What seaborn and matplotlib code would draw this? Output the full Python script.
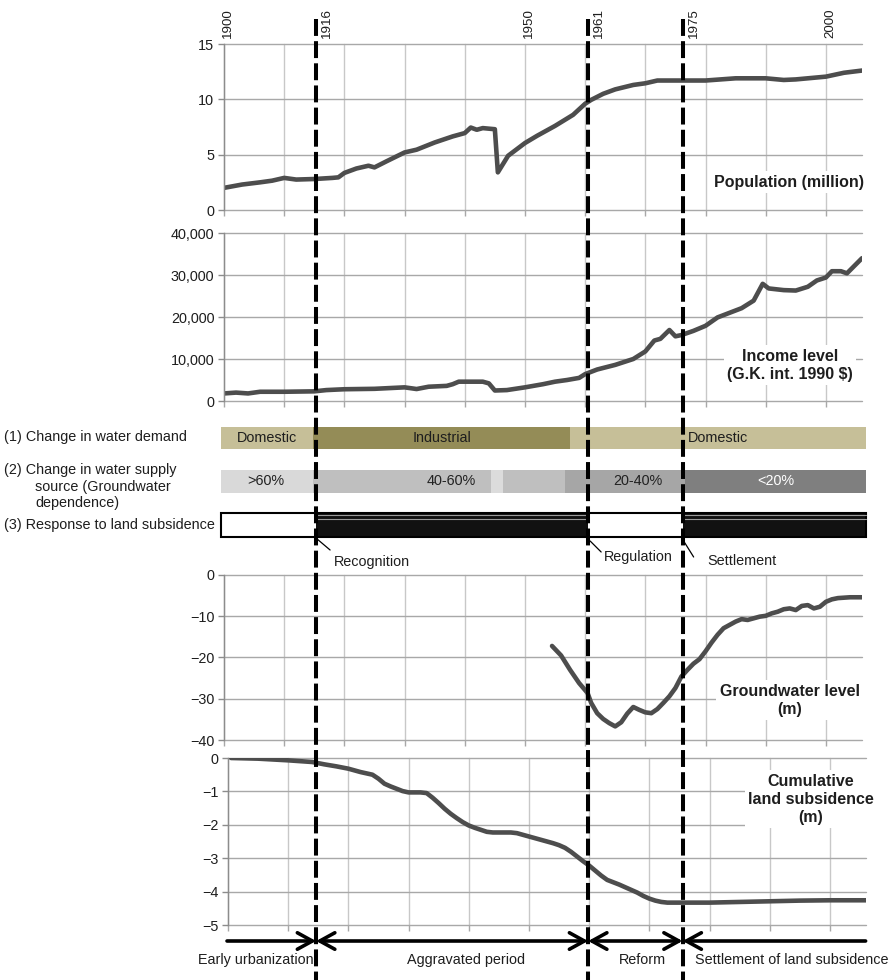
import matplotlib
matplotlib.use("Agg")
import matplotlib.pyplot as plt
import seaborn as sns
from matplotlib.lines import Line2D
from matplotlib.patches import Rectangle

# ---------------- data ----------------
pop_years = [1900, 1903, 1906, 1908, 1910, 1912, 1915, 1918, 1919, 1920, 1922, 1924, 1925,
             1927, 1930, 1932, 1935, 1938, 1940, 1941, 1942, 1943, 1944, 1945, 1945.5,
             1947.2, 1950, 1952, 1955, 1958, 1960, 1961, 1963, 1965, 1968, 1970, 1972,
             1975, 1980, 1985, 1990, 1993, 1995, 2000, 2003, 2006]
pop_vals = [2.0, 2.3, 2.5, 2.65, 2.9, 2.75, 2.8, 2.9, 2.95, 3.35, 3.75, 4.0, 3.85,
            4.4, 5.2, 5.45, 6.1, 6.65, 6.95, 7.45, 7.25, 7.4, 7.35, 7.3, 3.4,
            4.9, 6.05, 6.7, 7.6, 8.6, 9.6, 9.95, 10.5, 10.9, 11.3, 11.45, 11.7,
            11.7, 11.7, 11.9, 11.9, 11.75, 11.8, 12.05, 12.4, 12.6]

inc_years = [1900, 1902, 1904, 1906, 1910, 1915, 1917, 1920, 1925, 1930, 1932, 1934, 1937,
             1938, 1939, 1943, 1944, 1945, 1947, 1950, 1953, 1955, 1957, 1959, 1960, 1962,
             1965, 1968, 1970, 1971.5, 1972.5, 1974, 1975, 1976, 1978, 1980, 1982, 1984,
             1986, 1988, 1989.5, 1990.5, 1993, 1995, 1997, 1998.5, 2000, 2001, 2002.5,
             2003.5, 2006]
inc_vals = [1800, 2000, 1800, 2200, 2200, 2300, 2600, 2800, 2900, 3250, 2850, 3400, 3600,
            4000, 4600, 4600, 4200, 2500, 2600, 3250, 4000, 4600, 5000, 5500, 6400, 7500,
            8600, 10000, 11800, 14400, 14800, 16900, 15400, 15700, 16700, 17900, 19900, 21000,
            22100, 23900, 27900, 26800, 26400, 26300, 27200, 28700, 29400, 30900, 30900,
            30400, 34000]

gw_years = [1954.5, 1956, 1957.5, 1959, 1960.4, 1961, 1962, 1963, 1964, 1965, 1966, 1967,
            1968, 1969, 1970, 1971, 1972, 1973, 1974, 1975, 1976, 1977, 1978, 1979, 1980,
            1981, 1982, 1983, 1984, 1985, 1986, 1987, 1988, 1989, 1990, 1991, 1992, 1993,
            1994, 1995, 1996, 1997, 1998, 1999, 2000, 2001, 2002, 2004, 2006]
gw_vals = [-17.2, -19.5, -23.0, -26.2, -28.6, -31.0, -33.5, -34.9, -35.9, -36.7, -35.7, -33.6,
           -32.0, -32.7, -33.3, -33.5, -32.5, -31.0, -29.4, -27.4, -24.6, -23.0, -21.5, -20.4,
           -18.5, -16.4, -14.5, -12.9, -12.1, -11.3, -10.7, -10.9, -10.5, -10.1, -9.9, -9.3,
           -8.9, -8.3, -8.1, -8.5, -7.5, -7.3, -8.1, -7.7, -6.5, -5.9, -5.6, -5.4, -5.4]

sub_years = [1900.5, 1905, 1910, 1914, 1916, 1918, 1920, 1922, 1924, 1925, 1926, 1927, 1928,
             1929, 1930, 1932, 1933, 1934, 1935, 1936, 1937, 1938, 1939, 1940, 1941, 1942,
             1943, 1944, 1947, 1948, 1950, 1952, 1954, 1955, 1956, 1957, 1958, 1959, 1960,
             1961, 1962, 1963, 1964, 1965, 1966, 1967, 1968, 1969, 1970, 1971, 1972, 1973,
             1980, 1985, 1990, 1995, 2000, 2006]
sub_vals = [0.0, -0.02, -0.07, -0.12, -0.19, -0.25, -0.32, -0.42, -0.5, -0.62, -0.77, -0.85,
            -0.92, -0.99, -1.03, -1.03, -1.05, -1.19, -1.35, -1.52, -1.67, -1.8, -1.92, -2.02,
            -2.09, -2.15, -2.21, -2.23, -2.23, -2.25, -2.35, -2.45, -2.55, -2.61, -2.69, -2.81,
            -2.95, -3.09, -3.22, -3.37, -3.52, -3.65, -3.72, -3.79, -3.87, -3.95, -4.03, -4.13,
            -4.21, -4.27, -4.31, -4.33, -4.33, -4.31, -4.29, -4.27, -4.26, -4.26]

grid_years = [1900, 1910, 1920, 1930, 1940, 1950, 1960, 1970, 1980, 1990, 2000]
top_year_labels = [1900, 1950, 2000]
event_years = [1916, 1961, 1975]
event_line_x = [1915.3, 1960.5, 1976.2]
event_names = ["Recognition", "Regulation", "Settlement"]

pop_ticks = [0, 5, 10, 15]
inc_ticks = [0, 10000, 20000, 30000, 40000]
gw_ticks = [0, -10, -20, -30, -40]
sub_ticks = [0, -1, -2, -3, -4, -5]

demand_start = [1899.5, 1914.8, 1957.5]
demand_end = [1914.8, 1957.5, 2006.6]
demand_labels = ["Domestic", "Industrial", "Domestic"]
demand_colors = ["#C6BF98", "#948C57", "#C6BF98"]

supply_start = [1899.5, 1914.8, 1944.4, 1946.3, 1956.6, 1976.6]
supply_end = [1914.8, 1944.4, 1946.3, 1956.6, 1976.6, 2006.6]
supply_colors = ["#D9D9D9", "#BFBFBF", "#DCDCDC", "#BFBFBF", "#A6A6A6", "#7F7F7F"]
supply_labels = [">60%", "40-60%", "20-40%", "<20%"]
supply_label_x = [1907.0, 1937.7, 1968.8, 1991.7]
supply_label_colors = ["#222222", "#222222", "#222222", "white"]

resp_start = [1899.5, 1915.3, 1960.5, 1976.2]
resp_end = [1915.3, 1960.5, 1976.2, 2006.6]
resp_colors = ["white", "#111111", "white", "#111111"]

period_start = [1900.5, 1915.3, 1960.5, 1976.2]
period_end = [1915.3, 1960.5, 1976.2, 2006.6]
period_styles = ["->", "<->", "<->", "<-"]
period_names = ["Early urbanization", "Aggravated period", "Reform", "Settlement of land subsidence"]
period_label_x = [1905.3, 1940.2, 1969.6, 1994.3]

# ---------------- figure ----------------
sns.set_style("white")
plt.rcParams["font.family"] = ["Liberation Sans", "DejaVu Sans"]
plt.rcParams["axes.unicode_minus"] = True

W, H = 890, 980
fig = plt.figure(figsize=(W / 100, H / 100), dpi=100)


def box(l, t, r, b):
    return [l / W, 1 - b / H, (r - l) / W, (b - t) / H]


ax_pop = fig.add_axes(box(224, 44, 862, 210))
ax_inc = fig.add_axes(box(224, 233, 862, 401))
ax_bar = fig.add_axes(box(224, 416.3, 862, 546.4))
ax_gw = fig.add_axes(box(224, 575, 862, 740))
ax_sub = fig.add_axes(box(228, 758, 866, 925))

XLIM = (1900, 2006)
LINE_C = "#4D4D4D"
TXT = "#1E1E1E"
FS = 10.4


def style(ax, ticks, labels):
    ax.set_xlim(*XLIM)
    ax.set_ylim(min(ticks), max(ticks))
    ax.set_xticks(grid_years)
    ax.set_xticklabels([])
    ax.set_yticks(ticks)
    ax.set_yticklabels(labels)
    ax.grid(False)
    for x in grid_years:
        ax.axvline(x, color="#C8C8C8", lw=1, zorder=0, clip_on=False)
    for y in ticks:
        ax.axhline(y, color="#A8A8A8", lw=1, zorder=0, clip_on=False)
    for s in ["top", "right", "bottom"]:
        ax.spines[s].set_visible(False)
    ax.spines["left"].set_color("#8C8C8C")
    ax.spines["left"].set_linewidth(1)
    ax.tick_params(axis="y", length=4, width=1, color="#8C8C8C", labelsize=FS,
                   labelcolor=TXT, pad=3, left=True)
    ax.tick_params(axis="x", length=4, width=1, color="#A8A8A8", direction="out", bottom=True)
    ax.set_xlabel("")
    ax.set_ylabel("")
    ax.set_facecolor("none")


sns.lineplot(x=pop_years, y=pop_vals, ax=ax_pop, color=LINE_C, linewidth=3.3)
style(ax_pop, pop_ticks, [str(t) for t in pop_ticks])

sns.lineplot(x=inc_years, y=inc_vals, ax=ax_inc, color=LINE_C, linewidth=3.3)
style(ax_inc, inc_ticks, [f"{t:,}" for t in inc_ticks])

sns.lineplot(x=gw_years, y=gw_vals, ax=ax_gw, color=LINE_C, linewidth=3.3)
style(ax_gw, gw_ticks, [str(t).replace("-", "\u2212") for t in gw_ticks])

sns.lineplot(x=sub_years, y=sub_vals, ax=ax_sub, color=LINE_C, linewidth=3.3)
style(ax_sub, sub_ticks, [str(t).replace("-", "\u2212") for t in sub_ticks])

# panel titles (with white boxes over the grid)
bb = dict(facecolor="white", edgecolor="none", pad=2.5)
fig.text(864 / W, 1 - 182 / H, "Population (million)",
         ha="right", va="center", fontsize=11.5, fontweight="bold", color=TXT, bbox=bb)
fig.text(790 / W, 1 - 365 / H, "Income level\n(G.K. int. 1990 $)", ha="center", va="center",
         fontsize=11.5, fontweight="bold", color=TXT, linespacing=1.25, bbox=bb)
fig.text(790 / W, 1 - 700 / H, "Groundwater level\n(m)", ha="center", va="center",
         fontsize=11.5, fontweight="bold", color=TXT, linespacing=1.25, bbox=bb)
fig.text(811 / W, 1 - 799 / H, "Cumulative\nland subsidence\n(m)", ha="center", va="center",
         fontsize=11.5, fontweight="bold", color=TXT, linespacing=1.25, bbox=bb)

# ---------------- bars ----------------
ax_bar.set_xlim(*XLIM)
ax_bar.set_ylim(2.5, -0.5)
ax_bar.axis("off")

for s, e, c in zip(demand_start, demand_end, demand_colors):
    for p in ax_bar.barh(0, e - s, left=s, height=0.52, color=c, linewidth=0):
        p.set_clip_on(False)
for s, e, lab in zip(demand_start, demand_end, demand_labels):
    ax_bar.text((s + e) / 2, 0, lab, ha="center", va="center", fontsize=FS, color=TXT)

for s, e, c in zip(supply_start, supply_end, supply_colors):
    for p in ax_bar.barh(1, e - s, left=s, height=0.545, color=c, linewidth=0):
        p.set_clip_on(False)
for x, lab, c in zip(supply_label_x, supply_labels, supply_label_colors):
    ax_bar.text(x, 1, lab, ha="center", va="center", fontsize=FS, color=c)

RH = 0.55
for s, e, c in zip(resp_start, resp_end, resp_colors):
    for p in ax_bar.barh(2, e - s, left=s, height=RH, color=c, linewidth=0):
        p.set_clip_on(False)
    if c != "white":
        for off in (0.058, 0.14):
            ax_bar.plot([s, e], [2 - RH / 2 + off] * 2, color="#9A9A9A", lw=0.8, clip_on=False)
ax_bar.add_patch(Rectangle((resp_start[0], 2 - RH / 2), resp_end[-1] - resp_start[0], RH,
                           fill=False, edgecolor="black", lw=1.5, clip_on=False))

# row labels on the left
fig.text(4 / W, 1 - 437 / H, "(1) Change in water demand", ha="left", va="center", fontsize=FS, color=TXT)
fig.text(4 / W, 1 - 470 / H, "(2) Change in water supply", ha="left", va="center", fontsize=FS, color=TXT)
fig.text(35 / W, 1 - 487 / H, "source (Groundwater", ha="left", va="center", fontsize=FS, color=TXT)
fig.text(35 / W, 1 - 503 / H, "dependence)", ha="left", va="center", fontsize=FS, color=TXT)
fig.text(4 / W, 1 - 525 / H, "(3) Response to land subsidence", ha="left", va="center", fontsize=FS, color=TXT)


def xpx(year):
    return ax_pop.transData.transform((year, 0))[0]


# ---------------- event dashed lines and labels ----------------
for ex in event_line_x:
    x = xpx(ex) / W
    fig.add_artist(Line2D([x, x], [1 - 19 / H, 0], transform=fig.transFigure, color="black",
                          lw=2.9, linestyle=(0, (4.2, 1.3)), zorder=20))

for yr in top_year_labels:
    fig.text((xpx(yr) + 4) / W, 1 - 38 / H, str(yr), rotation=90, ha="center", va="bottom",
             fontsize=9.6, color=TXT)
for yr, ex in zip(event_years, event_line_x):
    fig.text((xpx(ex) + 11) / W, 1 - 38 / H, str(yr), rotation=90, ha="center", va="bottom",
             fontsize=9.6, color=TXT)

leader = [((1, 539), (14, 550), (18, 562)),
          ((2, 541), (13, 552), (16, 557)),
          ((1, 541), (11, 557), (25, 561))]
for ex, name, (a, b, t) in zip(event_line_x, event_names, leader):
    x0 = xpx(ex)
    fig.add_artist(Line2D([(x0 + a[0]) / W, (x0 + b[0]) / W], [1 - a[1] / H, 1 - b[1] / H],
                          transform=fig.transFigure, color="black", lw=0.9))
    fig.text((x0 + t[0]) / W, 1 - t[1] / H, name, ha="left", va="center", fontsize=FS, color=TXT)

# ---------------- period arrows ----------------
for s, e, st in zip(period_start, period_end, period_styles):
    ax_sub.annotate("", xy=(xpx(e), H - 941), xytext=(xpx(s), H - 941),
                    xycoords="figure pixels", textcoords="figure pixels",
                    arrowprops=dict(arrowstyle=st + ",head_length=0.4,head_width=0.22",
                                    mutation_scale=27, lw=2.6, color="black",
                                    shrinkA=0, shrinkB=0))
for x, name in zip(period_label_x, period_names):
    fig.text(xpx(x) / W, 1 - 960 / H, name, ha="center", va="center", fontsize=FS, color=TXT)

fig.savefig("out.png", dpi=100)
